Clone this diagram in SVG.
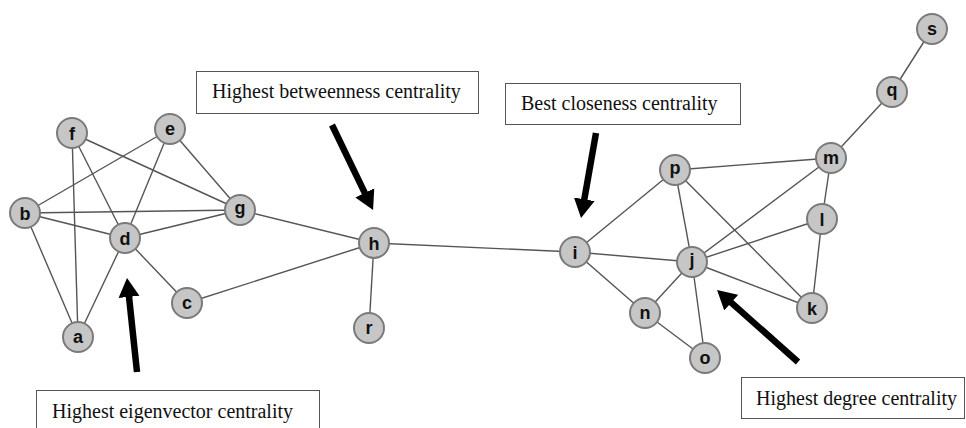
<svg xmlns="http://www.w3.org/2000/svg" width="966" height="428" viewBox="0 0 966 428">
<style>
.edge{stroke:#555;stroke-width:1.4;fill:none}
.node circle{fill:#c6c6c6;stroke:#7a7a7a;stroke-width:2}
.node text{font-family:"Liberation Sans",Arial,sans-serif;font-weight:bold;font-size:18px;fill:#111;text-anchor:middle}
.box rect{fill:#fff;stroke:#555;stroke-width:1}
.box text{font-family:"Liberation Serif","Times New Roman",serif;font-size:20px;fill:#111}
.arrow{stroke:#000;stroke-width:6.5;fill:none}
</style>
<defs>
<marker id="head" markerUnits="userSpaceOnUse" markerWidth="22" markerHeight="22" refX="3" refY="10.5" orient="auto" viewBox="0 0 22 21">
<path d="M0,0 L19,10.5 L0,21 z" fill="#000"/>
</marker>
</defs>
<rect width="966" height="428" fill="#fff"/>
<g id="connectors">
<line class="edge" x1="72" y1="133" x2="78" y2="337"/>
<line class="edge" x1="72" y1="133" x2="125" y2="238"/>
<line class="edge" x1="72" y1="133" x2="240" y2="210"/>
<line class="edge" x1="170" y1="129" x2="25" y2="213"/>
<line class="edge" x1="170" y1="129" x2="125" y2="238"/>
<line class="edge" x1="170" y1="129" x2="240" y2="210"/>
<line class="edge" x1="25" y1="213" x2="240" y2="210"/>
<line class="edge" x1="25" y1="213" x2="125" y2="238"/>
<line class="edge" x1="25" y1="213" x2="78" y2="337"/>
<line class="edge" x1="125" y1="238" x2="240" y2="210"/>
<line class="edge" x1="125" y1="238" x2="78" y2="337"/>
<line class="edge" x1="125" y1="238" x2="187" y2="303"/>
<line class="edge" x1="187" y1="303" x2="374" y2="243"/>
<line class="edge" x1="240" y1="210" x2="374" y2="243"/>
<line class="edge" x1="374" y1="243" x2="369" y2="328"/>
<line class="edge" x1="374" y1="243" x2="575" y2="252"/>
<line class="edge" x1="575" y1="252" x2="675" y2="170"/>
<line class="edge" x1="575" y1="252" x2="692" y2="262"/>
<line class="edge" x1="575" y1="252" x2="645" y2="313"/>
<line class="edge" x1="675" y1="170" x2="831" y2="158"/>
<line class="edge" x1="675" y1="170" x2="692" y2="262"/>
<line class="edge" x1="675" y1="170" x2="812" y2="308"/>
<line class="edge" x1="831" y1="158" x2="692" y2="262"/>
<line class="edge" x1="831" y1="158" x2="822" y2="219"/>
<line class="edge" x1="822" y1="219" x2="692" y2="262"/>
<line class="edge" x1="822" y1="219" x2="812" y2="308"/>
<line class="edge" x1="692" y1="262" x2="812" y2="308"/>
<line class="edge" x1="692" y1="262" x2="645" y2="313"/>
<line class="edge" x1="692" y1="262" x2="705" y2="358"/>
<line class="edge" x1="645" y1="313" x2="705" y2="358"/>
<line class="edge" x1="831" y1="158" x2="892" y2="92"/>
<line class="edge" x1="892" y1="92" x2="932" y2="29"/>
</g>
<g id="node-a" class="node"><circle cx="78" cy="337" r="15"/><text x="78" y="343">a</text></g>
<g id="node-b" class="node"><circle cx="25" cy="213" r="15"/><text x="25" y="219.5">b</text></g>
<g id="node-c" class="node"><circle cx="187" cy="303" r="15"/><text x="187" y="309">c</text></g>
<g id="node-d" class="node"><circle cx="125" cy="238" r="15"/><text x="125" y="244.5">d</text></g>
<g id="node-e" class="node"><circle cx="170" cy="129" r="15"/><text x="170" y="135">e</text></g>
<g id="node-f" class="node"><circle cx="72" cy="133" r="15"/><text x="72" y="139.5">f</text></g>
<g id="node-g" class="node"><circle cx="240" cy="210" r="15"/><text x="240" y="214">g</text></g>
<g id="node-h" class="node"><circle cx="374" cy="243" r="15"/><text x="374" y="250">h</text></g>
<g id="node-r" class="node"><circle cx="369" cy="328" r="15"/><text x="369" y="334">r</text></g>
<g id="node-i" class="node"><circle cx="575" cy="252" r="15"/><text x="575" y="258.5">i</text></g>
<g id="node-j" class="node"><circle cx="692" cy="262" r="15"/><text x="692" y="266">j</text></g>
<g id="node-k" class="node"><circle cx="812" cy="308" r="15"/><text x="812" y="314.5">k</text></g>
<g id="node-l" class="node"><circle cx="822" cy="219" r="15"/><text x="822" y="225.5">l</text></g>
<g id="node-m" class="node"><circle cx="831" cy="158" r="15"/><text x="831" y="164">m</text></g>
<g id="node-n" class="node"><circle cx="645" cy="313" r="15"/><text x="645" y="319">n</text></g>
<g id="node-o" class="node"><circle cx="705" cy="358" r="15"/><text x="705" y="364">o</text></g>
<g id="node-p" class="node"><circle cx="675" cy="170" r="15"/><text x="675" y="174">p</text></g>
<g id="node-q" class="node"><circle cx="892" cy="92" r="15"/><text x="892" y="96">q</text></g>
<g id="node-s" class="node"><circle cx="932" cy="29" r="15"/><text x="932" y="35">s</text></g>
<g id="label-betweenness" class="box"><rect x="196.5" y="71.5" width="282" height="42"/><text x="212" y="98">Highest betweenness centrality</text></g>
<g id="label-closeness" class="box"><rect x="505.5" y="83.5" width="235" height="41"/><text x="521" y="110">Best closeness centrality</text></g>
<g id="label-eigenvector" class="box"><rect x="36.5" y="390.5" width="283" height="45"/><text x="52" y="418">Highest eigenvector centrality</text></g>
<g id="label-degree" class="box"><rect x="741.5" y="377.5" width="223" height="41"/><text x="756" y="405">Highest degree centrality</text></g>
<g id="arrows">
<line class="arrow" x1="137" y1="372" x2="128.7" y2="293.9" marker-end="url(#head)"/>
<line class="arrow" x1="332" y1="125" x2="366.1" y2="195.6" marker-end="url(#head)"/>
<line class="arrow" x1="596" y1="133" x2="583.8" y2="202.2" marker-end="url(#head)"/>
<line class="arrow" x1="798" y1="362" x2="729" y2="300.6" marker-end="url(#head)"/>
</g>
</svg>
